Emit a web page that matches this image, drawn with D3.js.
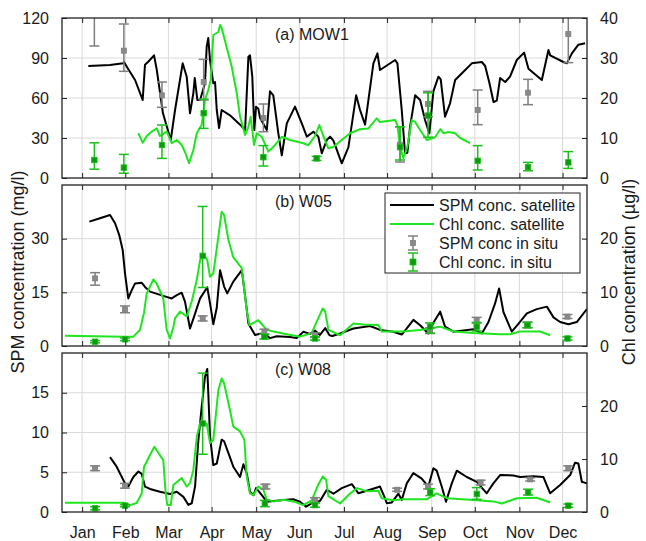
<!DOCTYPE html>
<html><head><meta charset="utf-8">
<script src="https://cdn.jsdelivr.net/npm/d3@7"></script>
<style>body{margin:0;background:#fff;} svg{display:block;font-family:"Liberation Sans",Arial,sans-serif;}</style>
</head><body><svg id="chart" width="646" height="541"></svg>
<script>
// ---------- DATA (x = day of year, y = concentration) ----------
const months = ["Jan","Feb","Mar","Apr","May","Jun","Jul","Aug","Sep","Oct","Nov","Dec"];
const monthTickDays = [14,44,74,104,135,165,196,226,257,287,318,348];

const panelLabels = ["(a) MOW1","(b) W05","(c) W08"];
const leftTicksA = [0,30,60,90,120], rightTicksA = [0,10,20,30,40];
const leftTicksB = [0,15,30],        rightTicksB = [0,10,20];
const leftTicksC = [0,5,10,15],      rightTicksC = [0,10,20];
const leftMax = [120,45,20], rightMax = [40,30,30];

// Panel (a) MOW1
const spmSatA = [[18.3,84],[33.4,84.7],[42.6,86],[43.1,87],[45.9,82],[50.8,73.5],[56.1,58.5],[57.7,85],[59.8,87],[64,92],[65.9,81],[70.2,48.5],[75.6,28.5],[78.6,51],[83.9,86],[86.7,76],[89,48.5],[91.3,63.5],[92.3,75],[94.1,58.5],[96,58.5],[99.4,71],[100.6,98.5],[101.7,105],[102.9,88.5],[105.2,71],[106.4,72],[107.6,51],[109.2,37.5],[111,51],[116.8,47],[123.8,40],[127.3,36],[129.6,91],[130.7,92],[132.3,76],[133.7,36],[134.9,53.5],[136.5,52],[137.7,45],[142.4,36],[144.6,65],[146.9,62],[150.4,33.5],[152.8,17],[156.3,41],[162,53.5],[166.7,41],[170.2,31],[174.8,34.7],[178.2,31],[180.6,18.5],[184.1,28.5],[186.4,31],[188.7,28],[194.5,11],[199.1,23],[204.5,62],[207.2,51],[210.7,40],[216.5,86],[219.3,93.5],[221.1,81],[231.6,88.5],[233.2,86],[236.2,51],[238.5,18.5],[240.1,19],[242,38.5],[245.5,62],[249,58.5],[252.4,43.5],[255.4,33.5],[258.2,65],[261.7,76],[263.3,74],[266.3,46],[269.8,56],[273.3,73.5],[279.1,79.7],[284.9,86],[291.9,87],[294.2,84],[297.2,71],[300,57],[302.3,58],[304.6,75],[308.1,72],[311.5,76],[316.2,88.5],[321.3,94],[324.3,82],[333.6,73.5],[338.2,96],[339.4,92],[348.6,87],[351,86],[354.5,93.5],[359,100],[363.7,101]];
const chlSatA = [[53.1,11.2],[56.1,8.8],[58.9,10.5],[62.4,11.6],[65.9,12.4],[68.1,10.5],[72.8,11.6],[76.3,8.7],[79.8,9.5],[83.2,8.25],[85.5,6.5],[88.3,3.7],[91.3,7],[93.7,11.2],[97.1,13.25],[99.4,19.5],[101.7,22],[103.4,24.5],[105.2,35.75],[108.7,36.5],[109.9,38.25],[111,37.5],[118,27.8],[121.5,21.2],[123.8,15.3],[127.3,10.75],[129.6,12.8],[131.2,15.3],[133.5,8.25],[135.4,11.2],[138.9,10.3],[143.5,6.6],[147,7.8],[152.8,10.3],[158.6,9.5],[167.8,8.7],[171.3,8.2],[175.9,10.5],[178.9,13.25],[181.7,10.5],[185.2,7.4],[188.7,7.8],[200.3,11.2],[207.2,12.2],[213,12.4],[218.8,14.9],[221.1,14],[231.6,14.5],[233.2,13.2],[235,7.8],[237.3,5],[240.1,7.8],[243.2,14.5],[245.5,14],[249,12],[253.6,9.5],[259.4,10.2],[263,12.2],[265.2,11.2],[268.7,11.5],[273.3,11.2],[276.8,10],[283.7,8.7]];
// in situ: [day, mean, low, high]
const spmInSituA = [[22.5,128,99,157],[43,95.5,80,115.5],[69.5,62,53,72],[98.5,72,58.5,89],[140,45,34.7,55.5],[235,25,12,38.5],[254.5,55.5,46,65],[289,51,40,66],[324,64,55,74],[352,108,86.5,121]];
const chlInSituA = [[22.5,4.5,2.2,8.8],[43,2.6,1.2,5.9],[69.5,8.25,4.9,13.25],[98.5,16.2,12.4,19.7],[140,5.2,3,8.1],[177,4.9,4.4,5.4],[235,7.7,4.5,12.8],[254.5,15.6,10.2,21.3],[289,4.3,2,8.1],[324,2.7,1.8,3.9],[352,3.9,2.4,6.6]];

// Panel (b) W05
const spmSatB = [[19,34.75],[26.4,35.7],[33.4,36.6],[36.9,34.3],[39.8,31],[42.2,26.8],[43.8,20.3],[46.1,13.3],[48.5,15.6],[50.8,17.5],[55.4,17.7],[57.7,16.5],[61.2,15.2],[70.4,14],[76.3,13.3],[79.8,14.2],[83.2,14.9],[85.5,12.4],[89,4.9],[91.3,7.6],[93.7,10.5],[96,13.3],[101,16.4],[102.9,12],[105.2,6.1],[107.6,10.7],[109.9,21.2],[112.7,16.6],[114.9,14.7],[119.1,18],[125,21.2],[127.3,14],[129.6,6.3],[134.2,3.1],[137.7,3.4],[141.2,3.3],[144.6,2.2],[149.3,2.7],[158.6,2.5],[163.2,2.2],[167.8,4],[172.5,3.4],[175.9,4.3],[179.4,3.1],[183,5],[186,3],[188,2.8],[193.3,3.5],[202.6,4.9],[214.2,5.6],[221.1,4.5],[230.4,4],[236.2,3.2],[239.7,4.9],[244.3,7.3],[249,5.8],[254.7,3.5],[258.2,6.5],[262.9,9.6],[266.3,5.4],[272.1,4],[286,4.7],[291.9,3.5],[296.5,6.7],[301.1,11.9],[303.9,16.1],[306.9,9.5],[312.7,4],[317.3,6.2],[323.2,9.1],[330.1,10.3],[337.1,11],[341.7,8],[346.3,6.7],[352.1,6.1],[357.9,6.7],[364.9,10.3]];
const chlSatB = [[2.1,1.9],[42.6,1.74],[49.6,1.74],[54.2,3],[57,6.2],[58.9,9.8],[63.5,12.4],[65.9,11.6],[70.4,8.9],[72.8,3],[75.1,1.4],[77.4,3.5],[78.6,5.2],[82.1,6.4],[86.7,5.5],[90.2,8.3],[93.7,12.3],[96,16],[98.7,17],[101,16],[102.9,12.9],[105.2,13.5],[107.6,18.2],[111,25],[112.7,24.4],[115.7,19.75],[119.1,16.5],[125,14.5],[128.4,6.7],[130.3,3.9],[133.1,4.3],[136.5,4.8],[142.4,3],[147,2.7],[156.3,2.2],[165.5,1.74],[173.6,2.4],[178.2,5.2],[181.3,7],[183,6.4],[185.2,3],[193.3,2],[202.6,4.2],[209.5,4],[219.9,3.9],[222.3,2.7],[237.3,2.7],[249,3],[262.9,3.6],[272.1,2.7],[286,2.4],[304.6,2.2],[311.5,2.2],[318.5,2.7],[332.4,2.7],[339.4,2]];
const spmInSituB = [[23,18.9,17,20.5],[43.8,10.25,9.3,11.2],[97.8,7.7,7,8.4],[140.7,4,3.3,4.7],[175.9,3.1,2.5,3.7],[255.9,4.3,3.5,5.1],[288.3,7.3,6.4,8],[323.6,5.9,5.1,6.7],[351.4,8.2,7.7,8.8]];
const chlInSituB = [[23,0.8,0.6,1.0],[43.8,1.25,1.0,1.5],[97.8,16.8,10.9,26],[140.7,1.7,1.3,2.2],[175.9,1.4,1.1,1.7],[255.9,3.6,2.4,4.3],[288.3,3.6,2.8,4.4],[323.6,3.9,3.4,4.4],[351.4,1.4,1.1,1.7]];

// Panel (c) W08
const spmSatC = [[33.4,6.9],[38,5.7],[43.8,3.6],[46.1,3.2],[49.6,4.4],[53.1,5.1],[55.4,4.8],[57.7,3.2],[61.2,2.9],[68.1,2.55],[75.1,2.26],[79.8,2.55],[84.4,1.9],[87.8,0.9],[90.2,1.1],[92.5,3.2],[94.8,9],[97.1,13.2],[99.4,17],[101,18],[101.7,15],[102.9,9.5],[105.2,5.9],[107.6,6.1],[111,9.1],[112.7,8.9],[115.7,7.4],[119.1,5.7],[123.8,4.4],[126.1,6],[128.4,4.9],[130.7,2.55],[133.1,2.1],[134.9,3],[137.7,2.4],[142.4,1.3],[153.9,1.5],[160.8,1.6],[165.5,1.3],[169.7,0.67],[173.6,1.1],[179.4,1.4],[184.1,2.8],[188.7,2.3],[194.5,3],[201.5,3.5],[206.1,2.35],[214.2,2.8],[221.1,3.2],[224.6,1.7],[225.8,1.1],[229.3,1.2],[233.9,2.3],[236.2,1.5],[239.7,3.6],[244.3,4.9],[250.1,4.2],[254.7,3.2],[258.2,5.5],[260.5,5.2],[264,3.2],[267,1.3],[271,3.6],[274.5,5.2],[281.4,4.4],[288.4,3.8],[295.3,2.35],[299.9,3.6],[304.6,4.65],[313.8,4.6],[318.5,4.4],[327.7,4.5],[334.7,4.4],[339.4,2.35],[346.3,3.4],[353.3,4.65],[356.7,6.2],[359,6.1],[361.4,3.8],[364.9,3.6]];
const chlSatC = [[2.1,1.76],[42.6,1.76],[47.3,1.3],[51.9,1.7],[55.4,3.5],[57,8.5],[61.2,10.75],[64.2,12.3],[67.6,10.9],[70.4,9.8],[72.1,3.5],[73.2,1.3],[75.6,1.3],[77.4,5.1],[83.2,6.4],[86.7,4.8],[89,5.5],[91.3,7.9],[93.7,14.2],[96,16.7],[100.6,16.7],[102.9,13],[105.2,13.6],[108.7,23],[111,25.2],[112.7,24.3],[116.8,19.2],[119.1,16.1],[123.8,15.2],[126.8,13.6],[128.4,6.7],[130.7,3.5],[133.1,3.2],[136.5,4.8],[140,4.2],[142.4,2.3],[147,2],[153.9,2.3],[160.8,2],[167.8,1.3],[173.6,2.2],[178.2,5.2],[181.3,6.7],[183.6,6.1],[185.2,3],[193.3,1.6],[200.3,3.5],[205.2,4.5],[212.1,3.9],[219.9,4],[222.3,2.6],[230.4,2.2],[237.3,2.4],[253.6,2.4],[260.5,3.5],[267.5,2.6],[283.7,2.3],[299.9,2],[305.8,1.6],[316.2,2.6],[330.1,2.7],[339.4,1.8]];
const spmInSituC = [[23,5.5,5.2,5.8],[43.8,3.3,3.0,3.6],[141.4,3.2,2.9,3.5],[175.9,1.5,1.2,1.8],[233,2.8,2.6,3.0],[254.5,3.2,2.9,3.5],[291,3.7,3.4,4.0],[325.5,4.1,3.9,4.3],[352,5.5,5.2,5.8]];
const chlInSituC = [[23,0.7,0.4,1.0],[43.8,1.2,1.0,1.4],[97.8,16.7,10.9,26.2],[141,1.6,1.0,2.2],[175.9,1.3,0.9,1.7],[256,3.7,3.1,4.4],[288.4,3.4,2.4,4.6],[324,3.7,3.2,4.3],[352,1.2,0.9,1.5]];

const legendLabels = ["SPM conc. satellite","Chl conc. satellite","SPM conc in situ","Chl conc. in situ"];

// ---------- STYLE ----------
const C_SPM = "#000000", C_CHL = "#1ee61e", C_SPM_IS = "#7f7f7f", C_CHL_IS = "#1bbf1b", C_CHL_SQ = "#0e9a0e";
const FONT = 16;

const svg = d3.select("#chart");
const X0 = 62, X1 = 587;
const x = d3.scaleLinear().domain([0,365]).range([X0,X1]);

const panels = [
  {top:18, bottom:178, lt:leftTicksA, rt:rightTicksA, spm:spmSatA, chl:chlSatA, spmIS:spmInSituA, chlIS:chlInSituA},
  {top:185, bottom:346, lt:leftTicksB, rt:rightTicksB, spm:spmSatB, chl:chlSatB, spmIS:spmInSituB, chlIS:chlInSituB},
  {top:353, bottom:512, lt:leftTicksC, rt:rightTicksC, spm:spmSatC, chl:chlSatC, spmIS:spmInSituC, chlIS:chlInSituC}
];

function errbars(g, data, yS, barColor, sqColor, sq, cap) {
  const eg = g.append("g");
  data.forEach(d => {
    const cx = x(d[0]);
    eg.append("line").attr("x1",cx).attr("x2",cx).attr("y1",yS(d[2])).attr("y2",yS(d[3]))
      .attr("stroke",barColor).attr("stroke-width",1.5);
    [d[2],d[3]].forEach(v => eg.append("line").attr("x1",cx-cap).attr("x2",cx+cap).attr("y1",yS(v)).attr("y2",yS(v))
      .attr("stroke",barColor).attr("stroke-width",1.5));
    eg.append("rect").attr("x",cx-sq/2).attr("y",yS(d[1])-sq/2).attr("width",sq).attr("height",sq)
      .attr("fill",sqColor).attr("stroke",barColor).attr("stroke-width",0.8);
  });
}

panels.forEach((p, i) => {
  const yL = d3.scaleLinear().domain([0,leftMax[i]]).range([p.bottom,p.top]);
  const yR = d3.scaleLinear().domain([0,rightMax[i]]).range([p.bottom,p.top]);
  const g = svg.append("g");
  const clipId = "clip"+i;
  svg.append("defs").append("clipPath").attr("id",clipId).append("rect")
    .attr("x",X0).attr("y",p.top).attr("width",X1-X0).attr("height",p.bottom-p.top);

  // grid
  const grid = g.append("g").attr("stroke","#dadada").attr("stroke-width",1);
  monthTickDays.forEach(d => grid.append("line").attr("x1",x(d)).attr("x2",x(d)).attr("y1",p.top).attr("y2",p.bottom));
  p.lt.filter(v => v>0 && v<leftMax[i]).forEach(v => grid.append("line").attr("x1",X0).attr("x2",X1).attr("y1",yL(v)).attr("y2",yL(v)));

  const plot = g.append("g").attr("clip-path",`url(#${clipId})`);
  const lineL = d3.line().x(d=>x(d[0])).y(d=>yL(d[1]));
  const lineR = d3.line().x(d=>x(d[0])).y(d=>yR(d[1]));
  plot.append("path").attr("d",lineL(p.spm)).attr("fill","none").attr("stroke",C_SPM).attr("stroke-width",2).attr("stroke-linejoin","round");
  plot.append("path").attr("d",lineR(p.chl)).attr("fill","none").attr("stroke",C_CHL).attr("stroke-width",2).attr("stroke-linejoin","round");
  errbars(plot, p.spmIS, yL, C_SPM_IS, "#8a8a8a", 5, 5);
  errbars(plot, p.chlIS, yR, C_CHL_IS, C_CHL_SQ, 5.5, 5);

  // axes (ticks inside)
  const ax = g.append("g").attr("font-size",FONT).attr("fill","#1a1a1a");
  const aL = d3.axisLeft(yL).tickValues(p.lt).tickSizeInner(-5).tickSizeOuter(0).tickPadding(13);
  const aR = d3.axisRight(yR).tickValues(p.rt).tickSizeInner(-5).tickSizeOuter(0).tickPadding(13);
  const aB = d3.axisBottom(x).tickValues(monthTickDays).tickSizeInner(-5).tickSizeOuter(0)
    .tickFormat((d,k)=> i===2 ? months[k] : "").tickPadding(15);
  const aT = d3.axisTop(x).tickValues(monthTickDays).tickSizeInner(-5).tickSizeOuter(0).tickFormat("");
  [ [aL,`translate(${X0},0)`], [aR,`translate(${X1},0)`], [aB,`translate(0,${p.bottom})`], [aT,`translate(0,${p.top})`] ]
    .forEach(([a,t]) => {
      const ag = ax.append("g").attr("transform",t).call(a);
      ag.select(".domain").remove();
      ag.selectAll("line").attr("stroke","#222");
      ag.selectAll("text").attr("font-size",FONT).attr("fill","#1a1a1a").attr("font-family","Liberation Sans, Arial, sans-serif");
    });
  g.append("rect").attr("x",X0).attr("y",p.top).attr("width",X1-X0).attr("height",p.bottom-p.top)
    .attr("fill","none").attr("stroke","#222").attr("stroke-width",1.3);

  g.append("text").attr("x",275).attr("y",p.top+22).attr("font-size",FONT).attr("fill","#1a1a1a").text(panelLabels[i]);
});

// legend (panel b)
const lg = svg.append("g");
lg.append("rect").attr("x",385).attr("y",193).attr("width",195).attr("height",80).attr("fill","#fff").attr("stroke","#222").attr("stroke-width",1);
const rowsY = [205,224,243,262];
lg.append("line").attr("x1",390).attr("x2",434).attr("y1",rowsY[0]).attr("y2",rowsY[0]).attr("stroke",C_SPM).attr("stroke-width",2);
lg.append("line").attr("x1",390).attr("x2",434).attr("y1",rowsY[1]).attr("y2",rowsY[1]).attr("stroke",C_CHL).attr("stroke-width",2);
function legErr(cy, half, col, sqc, sq){
  lg.append("line").attr("x1",413).attr("x2",413).attr("y1",cy-half).attr("y2",cy+half).attr("stroke",col).attr("stroke-width",1.5);
  [cy-half,cy+half].forEach(v=>lg.append("line").attr("x1",408).attr("x2",418).attr("y1",v).attr("y2",v).attr("stroke",col).attr("stroke-width",1.5));
  lg.append("rect").attr("x",413-sq/2).attr("y",cy-sq/2).attr("width",sq).attr("height",sq).attr("fill",sqc).attr("stroke",col).attr("stroke-width",0.8);
}
legErr(rowsY[2], 7, C_SPM_IS, "#8a8a8a", 5);
legErr(rowsY[3], 9, C_CHL_IS, C_CHL_SQ, 6);
legendLabels.forEach((t,k)=> lg.append("text").attr("x",439).attr("y",rowsY[k]+6).attr("font-size",FONT).attr("fill","#1a1a1a").text(t));

// axis titles
svg.append("text").attr("transform","translate(24,272) rotate(-90)").attr("text-anchor","middle")
  .attr("font-size",18).attr("fill","#1a1a1a").text("SPM concentration (mg/l)");
svg.append("text").attr("transform","translate(635,272) rotate(-90)").attr("text-anchor","middle")
  .attr("font-size",18).attr("fill","#1a1a1a").text("Chl concentration (µg/l)");
</script></body></html>
